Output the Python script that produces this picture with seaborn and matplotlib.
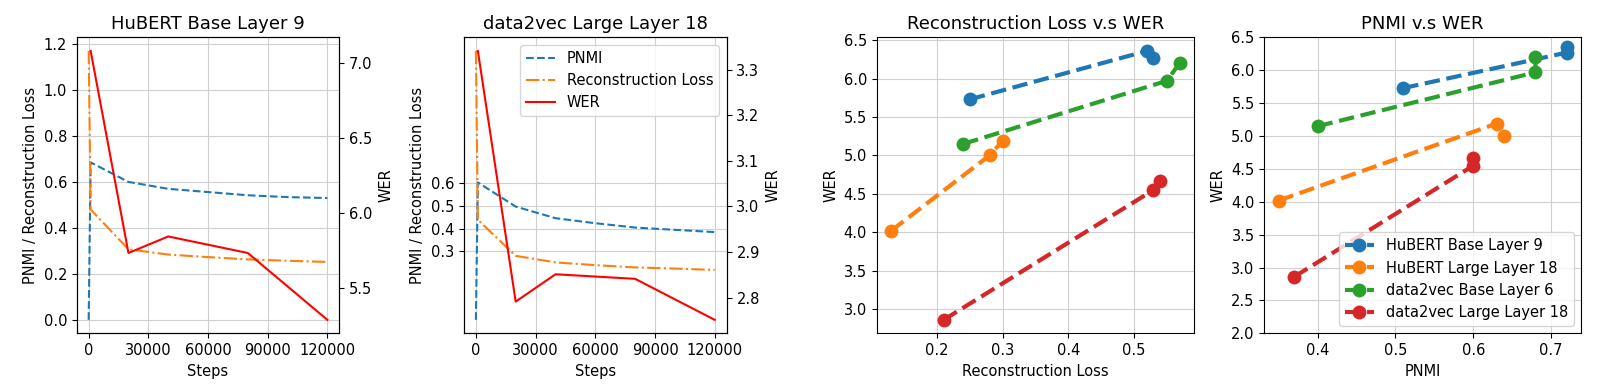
import matplotlib
matplotlib.use("Agg")
import matplotlib.pyplot as plt
from matplotlib.ticker import MultipleLocator
import seaborn as sns
import pandas as pd

# --- training curves (left two panels) ---
steps = [0, 1000, 20000, 40000, 60000, 80000, 100000, 120000]
wer_steps = [1000, 20000, 40000, 80000, 120000]

hubert_pnmi = [0.0, 0.685, 0.600, 0.570, 0.556, 0.542, 0.534, 0.530]
hubert_loss = [1.17, 0.480, 0.307, 0.284, 0.273, 0.263, 0.257, 0.252]
hubert_wer = [7.08, 5.735, 5.845, 5.735, 5.29]

d2v_pnmi = [0.0, 0.603, 0.497, 0.446, 0.424, 0.405, 0.395, 0.385]
d2v_loss = [1.18, 0.439, 0.281, 0.252, 0.240, 0.230, 0.225, 0.219]
d2v_wer = [3.341, 2.791, 2.851, 2.841, 2.751]

# --- correlation panels (right two panels) ---
models = ["HuBERT Base Layer 9", "HuBERT Large Layer 18",
          "data2vec Base Layer 6", "data2vec Large Layer 18"]
hb_base_loss = [0.25, 0.52, 0.53]
hb_base_pnmi = [0.51, 0.72, 0.72]
hb_base_wer = [5.73, 6.36, 6.27]
hb_large_loss = [0.13, 0.28, 0.30]
hb_large_pnmi = [0.35, 0.64, 0.63]
hb_large_wer = [4.02, 5.00, 5.19]
d2v_base_loss = [0.24, 0.55, 0.57]
d2v_base_pnmi = [0.40, 0.68, 0.68]
d2v_base_wer = [5.15, 5.97, 6.20]
d2v_large_loss = [0.21, 0.53, 0.54]
d2v_large_pnmi = [0.37, 0.60, 0.60]
d2v_large_wer = [2.86, 4.55, 4.67]

loss_lists = [hb_base_loss, hb_large_loss, d2v_base_loss, d2v_large_loss]
pnmi_lists = [hb_base_pnmi, hb_large_pnmi, d2v_base_pnmi, d2v_large_pnmi]
wer_lists = [hb_base_wer, hb_large_wer, d2v_base_wer, d2v_large_wer]

rows = []
for m, ls, ps, ws in zip(models, loss_lists, pnmi_lists, wer_lists):
    for l, p, w in zip(ls, ps, ws):
        rows.append({"model": m, "loss": l, "pnmi": p, "wer": w})
df = pd.DataFrame(rows)

palette = sns.color_palette("tab10")[:4]
GRID = "#d0d0d0"

plt.rcParams.update({
    "font.size": 10.5,
    "axes.labelsize": 10.5,
    "xtick.labelsize": 10.5,
    "ytick.labelsize": 10.5,
    "legend.fontsize": 10.5,
})


def training_panel(ax, pnmi, loss, wer, title, legend=False):
    sns.lineplot(x=steps, y=pnmi, ax=ax, color=palette[0], linestyle="--",
                 linewidth=1.5, label="PNMI", legend=False)
    sns.lineplot(x=steps, y=loss, ax=ax, color=palette[1], linestyle="-.",
                 linewidth=1.5, label="Reconstruction Loss", legend=False)
    ax.grid(True, color=GRID, linewidth=0.8)
    ax.set_axisbelow(True)
    ax.set_xticks([0, 30000, 60000, 90000, 120000])
    ax.set_xlabel("Steps")
    ax.set_ylabel("PNMI / Reconstruction Loss")
    ax.set_title(title, fontsize=13)

    ax2 = ax.twinx()
    sns.lineplot(x=wer_steps, y=wer, ax=ax2, color="red", linewidth=1.5,
                 label="WER", legend=False)
    ax2.set_ylabel("WER")
    ax2.grid(False)
    if legend:
        handles = ax.get_lines() + ax2.get_lines()
        ax2.legend(handles, [h.get_label() for h in handles], loc="upper right")
    return ax2


def scatter_panel(ax, xcol, xlabel, title, legend=False):
    for m, c in zip(models, palette):
        sub = df[df["model"] == m]
        sns.lineplot(data=sub, x=xcol, y="wer", ax=ax, color=c, marker="o",
                     markersize=10, markeredgewidth=0, linestyle="--",
                     linewidth=3, estimator=None, sort=True, label=m,
                     legend=False)
    ax.grid(True, color=GRID, linewidth=0.8)
    ax.set_axisbelow(True)
    ax.set_xlabel(xlabel)
    ax.set_ylabel("WER")
    ax.set_title(title, fontsize=13)
    if legend:
        ax.legend(loc="lower right")


fig = plt.figure(figsize=(16.02, 3.88), dpi=100)
ax1 = fig.add_axes([0.0479, 0.141, 0.1639, 0.7624])
ax2 = fig.add_axes([0.2896, 0.141, 0.1640, 0.7624])
ax3 = fig.add_axes([0.5473, 0.141, 0.1981, 0.7624])
ax4 = fig.add_axes([0.7892, 0.141, 0.1977, 0.7624])

tw1 = training_panel(ax1, hubert_pnmi, hubert_loss, hubert_wer, "HuBERT Base Layer 9")
tw1.yaxis.set_major_locator(MultipleLocator(0.5))
tw2 = training_panel(ax2, d2v_pnmi, d2v_loss, d2v_wer, "data2vec Large Layer 18", legend=True)
tw2.yaxis.set_major_locator(MultipleLocator(0.1))
ax2.set_yticks([0.3, 0.4, 0.5, 0.6])

scatter_panel(ax3, "loss", "Reconstruction Loss", "Reconstruction Loss v.s WER")
scatter_panel(ax4, "pnmi", "PNMI", "PNMI v.s WER", legend=True)
ax4.set_ylim(2.0, 6.5)

fig.savefig("out.png", dpi=100)
